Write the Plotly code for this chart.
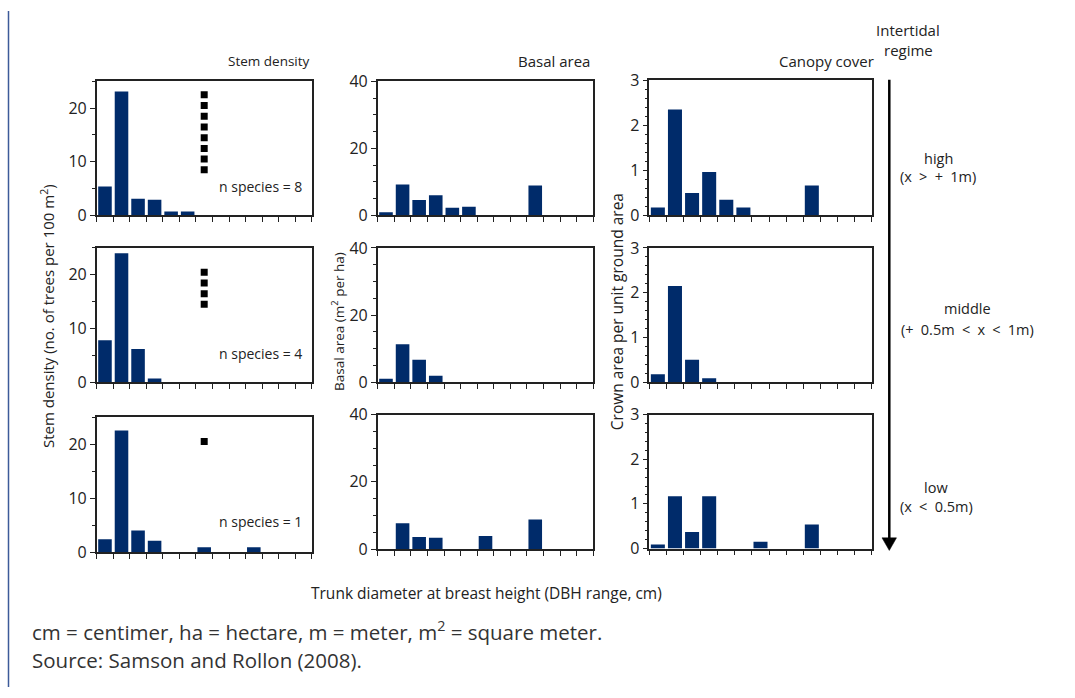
import plotly.graph_objects as go

W, H = 1075, 698
def px(x): return x / W
def py(y): return 1 - y / H

categories = list(range(13))  # DBH classes (unlabelled)

stem_high = [5.4, 23.1, 3.1, 2.9, 0.7, 0.7, 0, 0, 0, 0, 0, 0, 0]
stem_mid = [7.8, 24.0, 6.2, 0.7, 0, 0, 0, 0, 0, 0, 0, 0, 0]
stem_low = [2.4, 22.5, 4.0, 2.1, 0, 0, 0.9, 0, 0, 0.9, 0, 0, 0]
basal_high = [0.9, 9.2, 4.6, 6.0, 2.3, 2.6, 0, 0, 0, 8.9, 0, 0, 0]
basal_mid = [1.0, 11.3, 6.7, 1.9, 0, 0, 0, 0, 0, 0, 0, 0, 0]
basal_low = [0, 7.7, 3.6, 3.4, 0, 0, 3.9, 0, 0, 8.8, 0, 0, 0]
canopy_high = [0.17, 2.35, 0.49, 0.96, 0.34, 0.17, 0, 0, 0, 0.66, 0, 0, 0]
canopy_mid = [0.18, 2.15, 0.50, 0.09, 0, 0, 0, 0, 0, 0, 0, 0, 0]
canopy_low = [0.09, 1.17, 0.37, 1.17, 0, 0, 0.15, 0, 0, 0.54, 0, 0, 0]

species_x = 6
species_high = [22.5, 20.5, 18.5, 16.5, 14.5, 12.5, 10.5, 8.5]
species_mid = [20.5, 18.5, 16.5, 14.5]
species_low = [20.5]
n_species = [8, 4, 1]

col_titles = ["Stem density", "Basal area", "Canopy cover"]
SP = "\u2002"
row_labels = [("high", f"(x{SP}>{SP}+{SP}1m)"),
              ("middle", f"(+{SP}0.5m{SP}<{SP}x{SP}<{SP}1m)"),
              ("low", f"(x{SP}<{SP}0.5m)")]

panels = [
    [stem_high, basal_high, canopy_high],
    [stem_mid, basal_mid, canopy_mid],
    [stem_low, basal_low, canopy_low],
]
species = [species_high, species_mid, species_low]

# pixel geometry of panels
col_x = [(96.7, 311.7), (377.7, 593.3), (649.3, 871.7)]
row_y = [
    [(72.7, 211.0), (72.7, 211.0), (71.7, 210.7)],
    [(244.7, 383.3), (244.7, 383.3), (244.7, 383.3)],
    [(419.3, 558.7), (416.7, 555.7), (416.7, 555.0)],
]
y_ranges = [(0, 25), (0, 40), (0, 3)]
y_dtick = [10, 20, 1]
y_minor = [5, 5, 0.2]

BAR = "#002b6a"
AX = "#222222"
FONT = "Open Sans, Noto Sans, sans-serif"

fig = go.Figure()
layout = {}
k = 0
for r in range(3):
    for c in range(3):
        k += 1
        xa = "x" if k == 1 else f"x{k}"
        ya = "y" if k == 1 else f"y{k}"
        fig.add_trace(go.Bar(x=categories, y=panels[r][c], marker_color=BAR,
                             marker_line_width=0, xaxis=xa, yaxis=ya,
                             showlegend=False, hoverinfo="y"))
        if c == 0:
            fig.add_trace(go.Scatter(x=[species_x] * len(species[r]), y=species[r],
                                     mode="markers", xaxis=xa, yaxis=ya,
                                     marker=dict(symbol="square", size=7, color="black"),
                                     showlegend=False))
        x0, x1 = col_x[c]
        y0, y1 = row_y[r][c]
        layout[f"xaxis{k}" if k > 1 else "xaxis"] = dict(
            domain=[px(x0), px(x1)], anchor=ya, range=[-0.5, 12.5],
            tickmode="array", tickvals=[i - 0.5 for i in range(14)], showticklabels=False,
            ticks="outside", ticklen=5, tickcolor=AX, showline=True, linecolor=AX,
            linewidth=1.5, mirror=True, showgrid=False, zeroline=False, fixedrange=True)
        lo, hi = y_ranges[c]
        layout[f"yaxis{k}" if k > 1 else "yaxis"] = dict(
            domain=[py(y1), py(y0)], anchor=xa, range=[lo, hi], dtick=y_dtick[c],
            tick0=0, ticks="outside", ticklen=5, tickcolor=AX, showline=True,
            linecolor=AX, linewidth=1.5, mirror=True, showgrid=False, zeroline=False,
            tickfont=dict(size=16, color=AX, family=FONT),
            minor=dict(dtick=y_minor[c], ticks="outside", ticklen=3, tickcolor=AX),
            fixedrange=True)

ann = []
def text(x, y, t, size=13, xanchor="center", yanchor="middle", angle=0, color="#222", family=FONT):
    ann.append(dict(x=px(x), y=py(y), xref="paper", yref="paper", text=t, showarrow=False,
                    xanchor=xanchor, yanchor=yanchor, textangle=angle,
                    font=dict(size=size, color=color, family=family)))

# column titles
text(312, 52, col_titles[0], size=13.5, xanchor="right")
text(592, 52, col_titles[1], size=15, xanchor="right")
text(876, 52, col_titles[2], size=15, xanchor="right")
text(908, 20, "Intertidal", size=15)
text(908, 40, "regime", size=15)
# row labels
row_cx = [938, 967, 936]
row_cy = [(152, 171), (307, 329), (492, 512)]
for (a, b), cx, (ya_, yb_) in zip(row_labels, row_cx, row_cy):
    text(cx, ya_, a, size=14.5)
    text(cx, yb_, b, size=14.5)
# n species
ns_y = [181, 354, 527]
for n, yy in zip(n_species, ns_y):
    text(260, yy, f"n species = {n}", size=14)
# y titles
text(47, 315, "Stem density (no. of trees per 100 m<sup>2</sup>)", size=15, angle=-90)
text(338, 321, "Basal area (m<sup>2</sup> per ha)", size=13.5, angle=-90)
text(617, 311, "Crown area per unit ground area", size=15.5, angle=-90)
# x title
text(486, 601, "Trunk diameter at breast height (DBH range, cm)", size=15.5)
# footnotes
text(30, 640, "cm = centimer, ha = hectare, m = meter, m<sup>2</sup> = square meter.", size=20.5,
     xanchor="left", color="#333")
text(30, 670, "Source: Samson and Rollon (2008).", size=20.5, xanchor="left", color="#333")

shapes = [
    dict(type="line", xref="paper", yref="paper", x0=px(889.3), x1=px(889.3),
         y0=py(71), y1=py(546), line=dict(color="black", width=2.5)),
    dict(type="path", xref="paper", yref="paper",
         path=f"M {px(882)} {py(544)} L {px(896.5)} {py(544)} L {px(889.3)} {py(557)} Z",
         fillcolor="black", line=dict(color="black", width=0.5)),
    dict(type="line", xref="paper", yref="paper", x0=px(8.5), x1=px(8.5),
         y0=py(0), y1=py(698), line=dict(color="#3c5a99", width=1.5)),
]

fig.update_layout(**layout)
fig.update_layout(width=W, height=H, margin=dict(l=0, r=0, t=0, b=0),
                  paper_bgcolor="white", plot_bgcolor="white", bargap=0.18,
                  annotations=ann, shapes=shapes, font=dict(family=FONT))
fig.write_html("out.html")
